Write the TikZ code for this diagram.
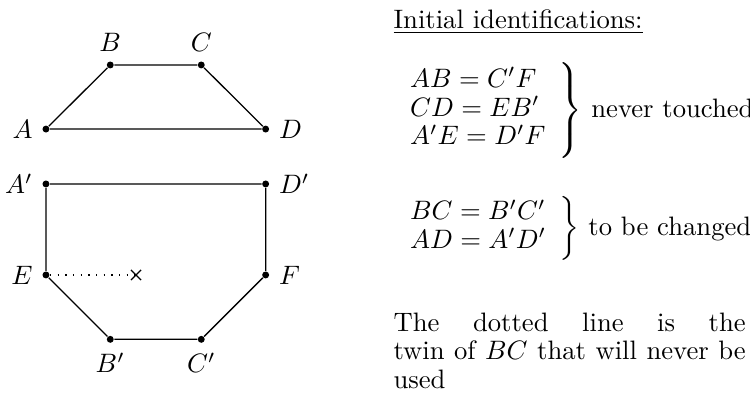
\documentclass[tikz,border=0pt]{standalone}
\usepackage{amsmath,amssymb}
\usepackage{tikz}
\usetikzlibrary{positioning,shapes.misc}
\tikzset{
  vertexdot/.style={circle,fill,inner sep=0pt,minimum size=2.6pt},
  twinend/.style={cross out,draw,inner sep=0pt,minimum size=3.4pt},
  notetext/.style={inner sep=0pt,anchor=west}
}

\begin{document}
\begin{tikzpicture}[scale=0.8333,transform shape,font=\fontsize{10}{10.7}\selectfont]
  \useasboundingbox (0,0) rectangle (9.890,-5.196);
  % Quadrilateral
  \node[vertexdot,label=left:$A$]  (A) at (0.606,-1.702) {};
  \node[vertexdot,label=above:$B$] (B) at (1.454,-0.857) {};
  \node[vertexdot,label=above:$C$] (C) at (2.654,-0.857) {};
  \node[vertexdot,label=right:$D$] (D) at (3.503,-1.702) {};
  \draw (A) -- (B) -- (C) -- (D) -- (A);
  % Hexagon
  \node[vertexdot,label=left:$A'$]  (A1) at (0.606,-2.426) {};
  \node[vertexdot,label=right:$D'$] (D1) at (3.503,-2.426) {};
  \node[vertexdot,label=left:$E$]   (E)  at (0.606,-3.626) {};
  \node[vertexdot,label=right:$F$]  (F)  at (3.503,-3.626) {};
  \node[vertexdot,label=below:$B'$] (B1) at (1.454,-4.475) {};
  \node[vertexdot,label=below:$C'$] (C1) at (2.654,-4.475) {};
  \draw (A1) -- (D1) -- (F) -- (C1) -- (B1) -- (E) -- (A1);
  % Unused twin of BC
  \node[twinend] (X) at (1.794,-3.626) {};
  \draw[dotted] (E) -- (X.center);
  % Notes
  \node[inner sep=0pt,anchor=base west] (title) at (5.183,-0.370)
    {\underline{Initial identifications:}};
  \node[notetext] (kept) at (5.183,-1.457)
    {\delimitershortfall=-3pt$\left.\begin{array}{l} AB=C'F\\ CD=EB'\\ A'E=D'F \end{array}\right\}$ never touched};
  \node[notetext] (changed) at (5.183,-3.013)
    {$\left.\begin{array}{l} BC=B'C'\\ AD=A'D' \end{array}\right\}$ to be changed};
  \node[inner sep=0pt,anchor=base west,text width=4.644cm,align=justify] (twin)
    at (5.183,-4.368)
    {The dotted line is the\linebreak twin of $BC$ that will never be used};
\end{tikzpicture}
\end{document}
